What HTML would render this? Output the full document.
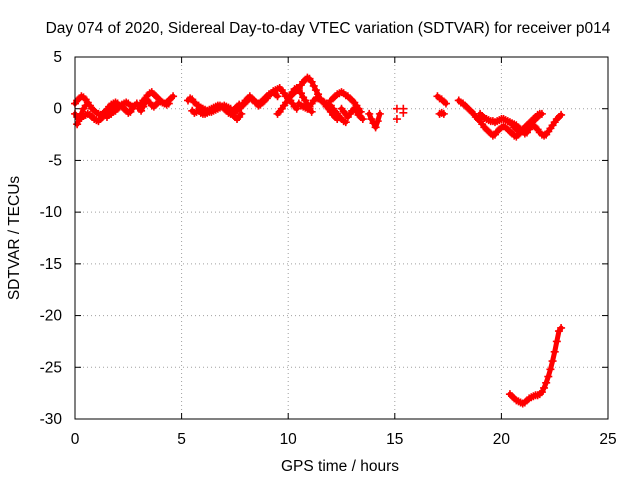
<!DOCTYPE html>
<html><head><meta charset="utf-8"><style>
body{margin:0;background:#fff}
svg{display:block;font-family:"Liberation Sans",sans-serif;font-size:15.5px}
</style></head><body>
<svg width="640" height="480">
<text x="328" y="33" text-anchor="middle">Day 074 of 2020, Sidereal Day-to-day VTEC variation (SDTVAR) for receiver p014</text>
<g id="grid"></g>
<g id="axes"></g>
<g id="marks"></g>
<rect x="75" y="57" width="533" height="362" fill="none" stroke="#000"/>
<text x="340" y="471" text-anchor="middle">GPS time / hours</text>
<text transform="translate(19,238) rotate(-90)" text-anchor="middle">SDTVAR / TECUs</text>
</svg>
<script>
const xTicks=[0,5,10,15,20,25];
const yTicks=[5,0,-5,-10,-15,-20,-25,-30];
const tracks=[
{start:0.0,step:0.1,values:[0.5,0.8,1.0,1.2,1.1,0.9,0.6,0.3,0.0,-0.2,-0.4,-0.5,-0.6,-0.5,-0.3,-0.1,0.2,0.4,0.5,0.6,0.5]},
{start:0.0,step:0.1,values:[-0.5,-0.8,-1.0,-0.9,-0.7,-0.6,-0.5,-0.6,-0.8,-1.0,-1.1,-1.2,-1.0,-0.8,-0.6,-0.4,-0.3,-0.2,0.0,0.1,0.2,0.3,0.2,0.0,-0.2,-0.4,-0.3,0.0,0.3,0.5]},
{start:0.1,step:0.1,values:[-1.5,-1.0,-0.5,0.0,0.3]},
{start:1.5,step:0.1,values:[-0.8,-0.6,-0.5,-0.3,-0.2,0.0,0.2,0.4,0.5,0.6,0.5,0.3,0.2]},
{start:3.0,step:0.1,values:[0.2,0.5,0.8,1.0,1.3,1.5,1.6,1.4,1.2,1.0,0.8,0.6,0.5,0.6,0.8,1.0,1.2]},
{start:3.0,step:0.1,values:[0.0,-0.2,0.2,0.6,0.8,0.6,0.3,0.2,0.4,0.6,0.7,0.6,0.5,0.4,0.5]},
{start:5.3,step:0.1,values:[0.8,1.0,0.9,0.6,0.4,0.3,0.1,0.0,-0.1,-0.2,-0.1,0.0,0.1,0.2,0.3,0.3,0.2,0.0,-0.2,-0.4,-0.5,-0.6,-0.8,-1.0,-0.8,-0.5]},
{start:5.5,step:0.1,values:[-0.2,-0.4,-0.3,-0.2,-0.4,-0.5,-0.5,-0.4,-0.3,-0.3,-0.2,-0.1,0.0,0.1,0.2,0.3,0.2,0.1,0.0,-0.2,-0.3,-0.2,0.0,0.2,0.4,0.6,0.8,1.0,0.9,0.8,0.6,0.5,0.6,0.8,1.0,1.2,1.4,1.5,1.6,1.4,1.2]},
{start:7.5,step:0.1,values:[0.0,0.2,0.4,0.3,0.5,0.8,1.0,1.2,1.0,0.8,0.5,0.3,0.4,0.6,0.8,1.0,1.3,1.5,1.7,1.8,1.9,2.0,1.8,1.5,1.2,1.0,0.8,0.5,0.2,0.0]},
{start:9.5,step:0.1,values:[-0.5,-0.3,0.0,0.3,0.6,1.0,1.3,1.6,1.9,2.0,1.8,1.5,1.1,0.8,0.4,0.0,-0.3]},
{start:10.0,step:0.1,values:[1.0,1.2,1.4,1.6,1.8,2.0,2.3,2.6,2.8,3.0,2.9,2.6,2.2,1.8,1.4,1.0,0.7,0.5,0.2,0.0,-0.3,-0.6,-0.8,-1.0]},
{start:10.5,step:0.1,values:[0.5,0.3,0.2,0.1,0.0,0.2,0.5,0.8,1.0,1.0,0.9,0.7,0.6,0.5,0.4,0.3,0.0,-0.3,-0.5,-0.8,-1.0,-1.2,-1.3]},
{start:12.0,step:0.1,values:[0.8,1.0,1.2,1.4,1.5,1.6,1.5,1.3,1.2,1.0,0.8,0.6,0.3,0.0,-0.3]},
{start:12.5,step:0.1,values:[0.0,-0.3,-0.5,-0.8,-0.5,-0.2,0.0,-0.3,-0.6,-0.8,-1.0]},
{start:13.8,step:0.1,values:[-0.5,-1.0,-1.4,-1.8,-1.2,-0.5]},
{start:15.1,step:0.3,values:[0.0,0.0]},
{start:15.1,step:0.3,values:[-1.0,-0.4]},
{start:17.0,step:0.1,values:[1.2,1.0,0.9,0.7,0.5]},
{start:17.1,step:0.1,values:[-0.5,-0.4,-0.5]},
{start:18.0,step:0.1,values:[0.8,0.6,0.5,0.3,0.1,-0.1,-0.3,-0.5,-0.8,-1.0,-1.2,-1.5,-1.8,-2.0,-2.2,-2.4,-2.6,-2.5,-2.2,-2.0,-1.8,-1.7,-1.8,-2.0,-2.2,-2.4,-2.6,-2.7,-2.5,-2.2,-2.0,-1.8,-1.6,-1.4,-1.2,-1.0,-0.8,-0.6,-0.5]},
{start:19.0,step:0.1,values:[-0.5,-0.7,-0.9,-1.0,-1.1,-1.2,-1.2,-1.3,-1.2,-1.1,-1.0,-1.0,-1.1,-1.2,-1.3,-1.4,-1.5,-1.6,-1.8,-2.0,-2.2,-2.4,-2.3,-2.0,-1.6,-1.2,-1.0,-0.8,-0.6,-0.5]},
{start:20.5,step:0.1,values:[-1.5,-1.8,-2.0,-2.2,-2.3,-2.2,-2.0,-1.8,-1.6,-1.5,-1.6,-1.8,-2.0,-2.3,-2.5,-2.6,-2.5,-2.2,-1.9,-1.6,-1.3,-1.0,-0.8,-0.6]},
{start:20.4,step:0.1,values:[-27.6,-27.8,-28.0,-28.2,-28.3,-28.4,-28.5,-28.4,-28.2,-28.0,-27.9,-27.8,-27.7,-27.7,-27.6,-27.4,-27.0,-26.5,-25.9,-25.2,-24.4,-23.5,-22.5,-21.5,-21.2]}
];
const NS="http://www.w3.org/2000/svg";
const X0=75,X1=608,Y0=57,Y1=419;
function xs(t){return X0+(t-0)/(25-0)*(X1-X0);}
function ys(v){return Y0+(5-v)/(5-(-30))*(Y1-Y0);}
function mk(tag,attrs,parent){const e=document.createElementNS(NS,tag);for(const k in attrs)e.setAttribute(k,attrs[k]);parent.appendChild(e);return e;}
const grid=document.getElementById('grid'),axes=document.getElementById('axes'),marks=document.getElementById('marks');
xTicks.forEach(t=>{const x=xs(t);
 if(t>0&&t<25){const g=mk('line',{x1:x,x2:x,y1:Y0,y2:Y1,stroke:'#a0a0a0','stroke-dasharray':'1,3'},grid);
 
 }
 mk('line',{x1:x,x2:x,y1:Y1,y2:Y1-6,stroke:'#000'},axes);
 mk('line',{x1:x,x2:x,y1:Y0,y2:Y0+6,stroke:'#000'},axes);
 const l=mk('text',{x:x,y:444,'text-anchor':'middle'},axes);l.textContent=t;
 
 
});
yTicks.forEach(v=>{const y=ys(v);
 if(v<5&&v>-30){const g=mk('line',{x1:X0,x2:X1,y1:y,y2:y,stroke:'#a0a0a0','stroke-dasharray':'1,3'},grid);
 
 }
 mk('line',{x1:X0,x2:X0+6,y1:y,y2:y,stroke:'#000'},axes);
 mk('line',{x1:X1,x2:X1-6,y1:y,y2:y,stroke:'#000'},axes);
 const l=mk('text',{x:62,y:y+5,'text-anchor':'end'},axes);l.textContent=v;
 
 
});
tracks.forEach(tr=>{
 if(tr.step<=0.15&&tr.values.length>1){
  const pts=tr.values.map((v,i)=>xs(tr.start+i*tr.step)+','+ys(v)).join(' ');
  const pl=mk('polyline',{points:pts,fill:'none',stroke:'#f00','stroke-width':5,'stroke-linejoin':'round','stroke-linecap':'round'},marks);
  
  
 }
 tr.values.forEach((v,i)=>{const x=xs(tr.start+i*tr.step),y=ys(v);
 const p=mk('path',{d:`M${x-4},${y}h8M${x},${y-4}v8`,stroke:'#f00','stroke-width':1.6,fill:'none'},marks);
 
 
});});
</script>
</body></html>
